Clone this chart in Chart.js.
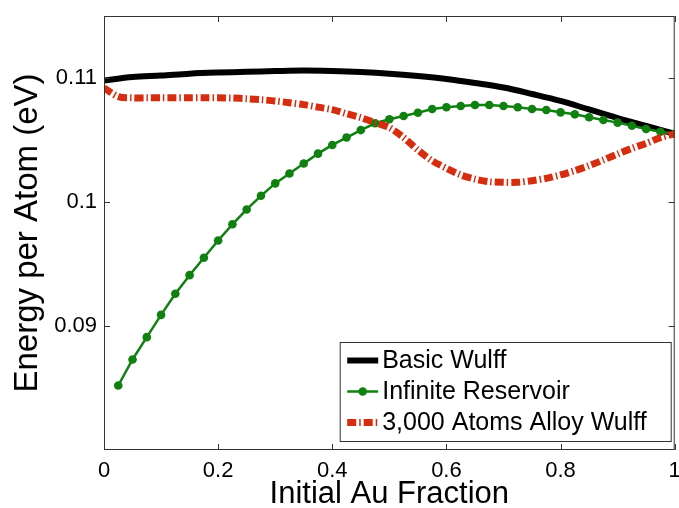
<!DOCTYPE html>
<html>
<head>
<meta charset="utf-8">
<script src="https://cdn.jsdelivr.net/npm/chart.js@4.4.1/dist/chart.umd.min.js"></script>
<style>
  html, body { margin: 0; padding: 0; background: #ffffff; }
  #wrap { width: 679px; height: 508px; }
</style>
</head>
<body>
<div id="wrap"><canvas id="chart" width="679" height="508"></canvas></div>
<script>
// Axis ticks
const xTickValues = [0, 0.2, 0.4, 0.6, 0.8, 1];
const xTickLabels = ['0', '0.2', '0.4', '0.6', '0.8', '1'];
const yTickValues = [0.09, 0.1, 0.11];
const yTickLabels = ['0.09', '0.1', '0.11'];

// Basic Wulff construction
const basicFrac = [0, 0.05, 0.1, 0.15, 0.2, 0.25, 0.3, 0.35, 0.4, 0.45, 0.5,
                   0.55, 0.6, 0.65, 0.7, 0.75, 0.8, 0.85, 0.9, 0.95, 1];
const basicEnergy = [0.1098, 0.11008, 0.1102, 0.11035, 0.11044, 0.1105, 0.11056, 0.1106, 0.11056, 0.11048, 0.11035,
                     0.11016, 0.10992, 0.1096, 0.10923, 0.10871, 0.10815, 0.10746, 0.10677, 0.10613, 0.1055];

// Infinite reservoir
const reservoirFrac = [0.025, 0.05, 0.075, 0.1, 0.125, 0.15, 0.175, 0.2, 0.225, 0.25,
                       0.275, 0.3, 0.325, 0.35, 0.375, 0.4, 0.425, 0.45, 0.475, 0.5,
                       0.525, 0.55, 0.575, 0.6, 0.625, 0.65, 0.675, 0.7, 0.725, 0.75,
                       0.775, 0.8, 0.825, 0.85, 0.875, 0.9, 0.925, 0.95, 0.975, 1];
const reservoirEnergy = [0.0852, 0.0873, 0.0891, 0.0909, 0.0926, 0.0941, 0.0955, 0.0969, 0.0982, 0.0994,
                         0.1005, 0.1015, 0.1023, 0.1031, 0.1039, 0.1046, 0.1052, 0.1058, 0.10635, 0.10667,
                         0.10694, 0.1072, 0.1075, 0.10764, 0.10774, 0.10782, 0.10782, 0.10774, 0.10764, 0.1075,
                         0.10742, 0.10723, 0.10707, 0.10683, 0.10661, 0.1064, 0.10615, 0.10589, 0.10567, 0.1055];

// 3,000-atom alloy Wulff
const alloyFrac = [0, 0.025, 0.05, 0.075, 0.1, 0.125, 0.15, 0.175, 0.2, 0.225, 0.25,
                   0.275, 0.3, 0.325, 0.35, 0.375, 0.4, 0.425, 0.45, 0.475, 0.5,
                   0.525, 0.55, 0.575, 0.6, 0.625, 0.65, 0.675, 0.7, 0.725, 0.75,
                   0.775, 0.8, 0.825, 0.85, 0.875, 0.9, 0.925, 0.95, 0.975, 1];
const alloyEnergy = [0.1092, 0.1085, 0.1084, 0.1084, 0.1084, 0.1084, 0.1084, 0.1084, 0.1084, 0.10838, 0.10833,
                     0.10825, 0.10815, 0.108, 0.10785, 0.10765, 0.10745, 0.10712, 0.1068, 0.1064, 0.106,
                     0.1052, 0.10419, 0.10333, 0.10272, 0.10218, 0.10185, 0.10164, 0.10159, 0.10159, 0.10172,
                     0.10191, 0.10218, 0.10253, 0.10293, 0.10339, 0.10387, 0.10433, 0.10473, 0.10519, 0.1055];

const seriesNames = ['Basic Wulff', 'Infinite Reservoir', '3,000 Atoms Alloy Wulff'];

const BLACK = '#000000';
const GREEN = '#108010';
const RED = '#d62d10';
const RED_DASH = [9, 3, 1.5, 3];
const FONT = '"Liberation Sans", Arial, Helvetica, sans-serif';

const toPoints = (xs, ys) => xs.map((v, i) => ({ x: v, y: ys[i] }));

// Boxed axes with inward tick marks on all four sides
const frameAndTicks = {
  id: 'frameAndTicks',
  afterDatasetsDraw(chart) {
    const { ctx, chartArea: a, scales: { x, y } } = chart;
    const len = 6;
    ctx.save();
    ctx.strokeStyle = '#333333';
    ctx.lineWidth = 1;
    ctx.beginPath();
    xTickValues.forEach(v => {
      const px = Math.round(x.getPixelForValue(v)) + 0.5;
      ctx.moveTo(px, a.bottom); ctx.lineTo(px, a.bottom - len);
      ctx.moveTo(px, a.top); ctx.lineTo(px, a.top + len);
    });
    yTickValues.forEach(v => {
      const py = Math.round(y.getPixelForValue(v)) + 0.5;
      ctx.moveTo(a.left, py); ctx.lineTo(a.left + len, py);
      ctx.moveTo(a.right, py); ctx.lineTo(a.right - len, py);
    });
    ctx.stroke();
    ctx.strokeRect(a.left + 0.5, a.top + 0.5, a.right - a.left - 1, a.bottom - a.top - 1);
    ctx.restore();
  }
};

// Boxed legend in the lower right corner of the plot
const boxLegend = {
  id: 'boxLegend',
  afterDraw(chart) {
    const { ctx, chartArea: a } = chart;
    const boxW = 331, boxH = 99;
    const bx = a.right - 4 - boxW + 0.5;
    const by = a.bottom - 9 - boxH + 0.5;
    ctx.save();
    ctx.fillStyle = '#ffffff';
    ctx.strokeStyle = '#333333';
    ctx.lineWidth = 1;
    ctx.fillRect(bx, by, boxW, boxH);
    ctx.strokeRect(bx, by, boxW, boxH);
    const rows = [by + 18, by + 49, by + 80];
    const x0 = bx + 7, x1 = bx + 38;
    const ds = chart.data.datasets;
    rows.forEach((ry, i) => {
      const d = ds[i];
      ctx.save();
      ctx.strokeStyle = d.borderColor;
      ctx.lineWidth = d.borderWidth;
      ctx.setLineDash(d.borderDash || []);
      ctx.beginPath();
      ctx.moveTo(x0, ry); ctx.lineTo(x1, ry);
      ctx.stroke();
      if (d.pointRadius > 0) {
        ctx.setLineDash([]);
        ctx.fillStyle = d.pointBackgroundColor;
        ctx.beginPath();
        ctx.arc((x0 + x1) / 2, ry, d.pointRadius, 0, Math.PI * 2);
        ctx.fill();
      }
      ctx.restore();
      ctx.fillStyle = '#000000';
      ctx.font = '25px ' + FONT;
      ctx.textBaseline = 'middle';
      ctx.textAlign = 'left';
      ctx.fillText(d.label, x1 + 4, ry + 1);
    });
    ctx.restore();
  }
};

new Chart(document.getElementById('chart'), {
  type: 'line',
  data: {
    datasets: [
      {
        label: seriesNames[0],
        data: toPoints(basicFrac, basicEnergy),
        borderColor: BLACK,
        backgroundColor: BLACK,
        borderWidth: 6,
        pointRadius: 0,
        tension: 0.35,
        order: 3
      },
      {
        label: seriesNames[1],
        data: toPoints(reservoirFrac, reservoirEnergy),
        borderColor: GREEN,
        backgroundColor: GREEN,
        pointBackgroundColor: GREEN,
        pointBorderColor: GREEN,
        borderWidth: 2.5,
        pointRadius: 4.3,
        pointBorderWidth: 0,
        tension: 0,
        order: 2
      },
      {
        label: seriesNames[2],
        data: toPoints(alloyFrac, alloyEnergy),
        borderColor: RED,
        backgroundColor: RED,
        borderWidth: 7,
        borderDash: RED_DASH,
        borderCapStyle: 'butt',
        pointRadius: 0,
        tension: 0.3,
        order: 1
      }
    ]
  },
  options: {
    responsive: false,
    devicePixelRatio: 1,
    animation: false,
    layout: { padding: { top: 16, right: 4, left: 0, bottom: 0 } },
    plugins: {
      legend: { display: false },
      tooltip: { enabled: false }
    },
    scales: {
      x: {
        type: 'linear',
        min: 0,
        max: 1,
        afterBuildTicks: s => { s.ticks = xTickValues.map(v => ({ value: v })); },
        afterFit: s => { s.height = 58; s.paddingLeft = 0; s.paddingRight = 0; },
        grid: { display: false, drawTicks: false },
        border: { display: false },
        ticks: {
          padding: 8,
          color: '#000000',
          font: { family: FONT, size: 22 },
          maxRotation: 0,
          callback: (v) => xTickLabels[xTickValues.indexOf(v)]
        },
        title: {
          display: true,
          text: 'Initial Au Fraction',
          color: '#000000',
          font: { family: FONT, size: 31, lineHeight: 0.85 },
          padding: { top: 0, bottom: 0 }
        }
      },
      y: {
        type: 'linear',
        min: 0.08,
        max: 0.115,
        afterBuildTicks: s => { s.ticks = yTickValues.map(v => ({ value: v })); },
        afterFit: s => { s.width = 104; s.paddingTop = 0; s.paddingBottom = 0; },
        grid: { display: false, drawTicks: false },
        border: { display: false },
        ticks: {
          padding: 7,
          color: '#000000',
          font: { family: FONT, size: 22 },
          callback: (v) => yTickLabels[yTickValues.findIndex(t => Math.abs(t - v) < 1e-9)]
        },
        title: {
          display: true,
          text: 'Energy per Atom (eV)',
          color: '#000000',
          font: { family: FONT, size: 33 },
          padding: { top: 8, bottom: 0 }
        }
      }
    }
  },
  plugins: [frameAndTicks, boxLegend]
});
</script>
</body>
</html>
